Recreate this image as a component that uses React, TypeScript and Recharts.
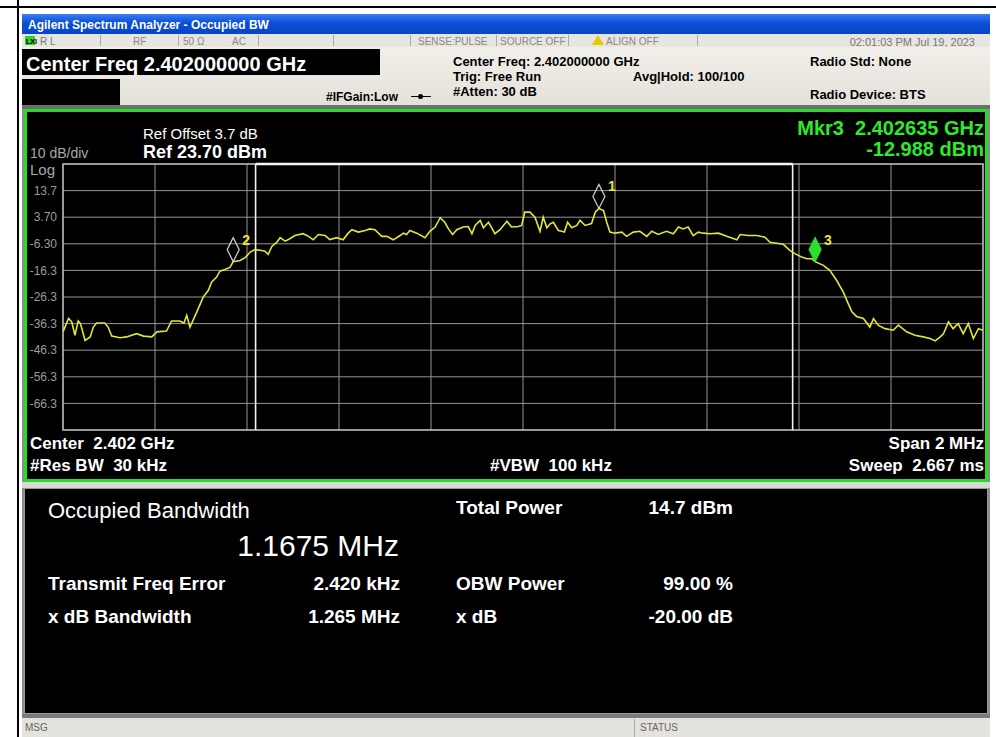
import React from "react";
import {
  ComposedChart,
  Line,
  Scatter,
  XAxis,
  YAxis,
  CartesianGrid,
  ReferenceLine,
  ReferenceArea
} from "recharts";

// frequency offset from 2.402 GHz centre, kHz
const freqKHz = [
  -1000, -988, -981, -974, -967, -962, -952, -941, -934, -927, -909, -902, -894, -876, -862,
  -840, -825, -807, -796, -775, -764, -746, -737, -731, -724, -709, -695, -684, -677, -666,
  -659, -648, -637, -630, -615, -604, -593, -583, -568, -561, -554, -546, -535, -528, -517,
  -507, -496, -478, -467, -456, -445, -430, -420, -405, -391, -380, -372, -358, -343, -333,
  -322, -307, -296, -282, -267, -260, -253, -246, -231, -213, -202, -191, -180, -170, -162,
  -153, -144, -130, -119, -111, -104, -93, -86, -75, -68, -61, -50, -35, -25, -10,
  -3, 4, 15, 26, 37, 44, 52, 59, 66, 77, 84, 90, 97, 106, 117,
  124, 135, 149, 157, 165, 175, 182, 189, 200, 215, 225, 240, 254, 269, 280,
  294, 312, 327, 338, 348, 359, 370, 381, 392, 407, 425, 443, 465, 472, 490,
  508, 526, 537, 552, 566, 580, 591, 606, 617, 628, 635, 653, 667, 682, 696,
  707, 715, 725, 740, 754, 762, 772, 787, 805, 816, 834, 852, 870, 885, 896,
  907, 914, 925, 935, 946, 957, 968, 979, 990, 1000
];

// trace level, dBm
const traceDbm = [
  -39.4, -34.4, -35.7, -40.7, -35.3, -36.3, -42.6, -41.3, -37.6, -36.1, -36.1, -37.6, -41.0, -41.6, -41.3,
  -40.1, -41.0, -41.3, -39.4, -39.1, -35.3, -35.3, -36.1, -33.2, -37.6, -31.9, -26.3, -23.8, -20.7, -18.8,
  -16.6, -16.0, -15.2, -13.0, -12.6, -11.5, -9.4, -8.5, -8.8, -9.1, -10.3, -7.3, -5.7, -4.0, -5.3,
  -4.4, -3.2, -2.5, -3.4, -4.8, -2.8, -3.2, -4.7, -4.0, -4.8, -2.3, -1.0, -1.9, -1.3, -0.7,
  -1.0, -3.5, -3.5, -4.8, -3.2, -2.3, -2.8, -1.3, -2.3, -4.0, -1.5, 0.0, 3.5, 1.8, -0.7,
  -2.8, -1.0, 0.0, 0.2, -2.5, 0.6, 2.5, -0.3, 1.8, -0.3, -2.5, -1.0, 2.2, 0.0, 0.2,
  0.6, 5.6, 5.6, 3.7, -1.6, 3.7, -0.3, 1.2, 1.8, -1.3, -1.6, -1.9, 1.8, -0.3, 0.6,
  2.5, 0.6, 1.3, 5.6, 7.0, 6.2, 1.8, -1.9, -2.3, -1.9, -3.5, -1.9, -1.6, -3.5, -1.6,
  -2.8, -1.6, -2.5, 0.0, -0.7, 0.0, -3.2, -1.9, -2.3, -2.5, -2.3, -3.5, -4.8, -2.8, -3.2,
  -3.2, -3.8, -5.7, -6.1, -6.5, -8.8, -10.0, -11.3, -11.9, -11.9, -13.0, -14.4, -16.3, -20.1, -24.4,
  -28.8, -31.9, -33.6, -34.4, -37.6, -34.4, -36.9, -38.2, -38.8, -36.9, -39.4, -40.7, -41.3, -41.9, -42.8,
  -41.3, -40.1, -35.7, -38.2, -36.3, -40.1, -36.3, -41.9, -38.2, -38.8
];

const markerIds = [1, 2, 3];
const markerKHz = [165, -630, 635];
const markerDbm = [7.01, -13.0, -12.988];
const activeMarker = 3;

const xTicks = [-1000, -800, -600, -400, -200, 0, 200, 400, 600, 800, 1000];
const yTicks = [23.7, 13.7, 3.7, -6.3, -16.3, -26.3, -36.3, -46.3, -56.3, -66.3, -76.3];

const obwCenterKHz = 2.42;
const obwKHz = 1167.5;
const obwLeft = obwCenterKHz - obwKHz / 2;
const obwRight = obwCenterKHz + obwKHz / 2;

const traceRows = freqKHz.map((f, i) => ({ f, dbm: traceDbm[i] }));
const markerRows = markerIds.map((id, i) => ({ id, f: markerKHz[i], dbm: markerDbm[i] }));

const FONT = '"Liberation Sans", Arial, sans-serif';

function Txt({ x, right, base, size, bold, color, children }: any) {
  const style: any = {
    position: "absolute",
    top: base - size * 0.85,
    fontSize: size,
    lineHeight: 1,
    fontWeight: bold ? "bold" : "normal",
    color: color || "#fff",
    whiteSpace: "pre",
    fontFamily: FONT
  };
  if (right !== undefined) style.right = 996 - right;
  else style.left = x;
  return <div style={style}>{children}</div>;
}

function Box({ x, y, w, h, bg, style }: any) {
  return (
    <div
      style={{ position: "absolute", left: x, top: y, width: w, height: h, background: bg, ...style }}
    />
  );
}

function MarkerShape(props: any) {
  const { cx, cy, payload } = props;
  if (cx == null || cy == null) return null;
  const active = payload.id === activeMarker;
  const pts = `${cx},${cy} ${cx + 6},${cy - 12} ${cx},${cy - 24} ${cx - 6},${cy - 12}`;
  return (
    <g>
      <polygon
        points={pts}
        fill={active ? "#2ee02e" : "none"}
        stroke={active ? "#2ee02e" : "#d0d0d0"}
        strokeWidth={1.2}
      />
      <text x={cx + 9} y={cy - 17} fill="#e8e83a" fontSize={14} fontWeight="bold" fontFamily={FONT}>
        {payload.id}
      </text>
    </g>
  );
}

const fmtY = (v: number) => {
  if (v === 23.7 || v === -76.3) return "";
  return Math.abs(v) < 10 ? v.toFixed(2) : v.toFixed(1);
};

export default function App() {
  return (
    <div style={{ position: "absolute", left: 0, top: 0, width: 996, height: 737, background: "#fff", overflow: "hidden", fontFamily: FONT }}>
      {/* outer document frame */}
      <Box x={0} y={6} w={996} h={2} bg="#000" />
      <Box x={17} y={0} w={2} h={737} bg="#000" />

      {/* instrument screen */}
      <Box x={22} y={14} w={968} h={723} bg="#8c8c8c" />

      {/* title bar */}
      <Box x={22} y={14} w={968} h={20} bg="linear-gradient(#3d7cf0, #0a4fd6 45%, #0846c4)" />
      <Txt x={28} base={29} size={12} bold color="#fff">Agilent Spectrum Analyzer - Occupied BW</Txt>

      {/* status row */}
      <Box x={22} y={34} w={968} h={13} bg="#e7e5df" />
      <Box x={25} y={36} w={10} h={9} bg="#2fd12f" />
      <Txt x={26} base={44} size={7} bold color="#000">LXI</Txt>
      <Txt x={40} base={45} size={10} color="#777">R L</Txt>
      <Txt x={133} base={45} size={10} color="#888">RF</Txt>
      <Txt x={183} base={45} size={10} color="#888">50 Ω</Txt>
      <Txt x={232} base={45} size={10} color="#888">AC</Txt>
      <Txt x={418} base={45} size={10} color="#888">SENSE:PULSE</Txt>
      <Txt x={500} base={45} size={10} color="#888">SOURCE OFF</Txt>
      <div style={{ position: "absolute", left: 592, top: 35, width: 0, height: 0, borderLeft: "6px solid transparent", borderRight: "6px solid transparent", borderBottom: "10px solid #e8c800" }} />
      <Txt x={606} base={45} size={10} color="#888">ALIGN OFF</Txt>
      <Txt right={975} base={46} size={11} color="#777">02:01:03 PM Jul 19, 2023</Txt>
      {[100, 178, 258, 333, 410, 496, 568, 697].map((x) => (
        <Box key={x} x={x} y={35} w={1} h={11} bg="#aaa" />
      ))}

      {/* header */}
      <Box x={22} y={47} w={968} h={58} bg="linear-gradient(#f1efe9, #e4e1d9)" />
      <Box x={22} y={49} w={358} h={26} bg="#000" />
      <Txt x={26} base={71} size={20} bold color="#fff">Center Freq 2.402000000 GHz</Txt>
      <Box x={22} y={79} w={98} h={26} bg="#000" />
      <Txt x={326} base={101} size={12} bold color="#000">#IFGain:Low</Txt>
      <Box x={411} y={96} w={20} h={1} bg="#000" />
      <Box x={418} y={94} w={5} h={5} bg="#000" style={{ borderRadius: 3 }} />
      <Txt x={453} base={66} size={13} bold color="#000">Center Freq: 2.402000000 GHz</Txt>
      <Txt x={453} base={81} size={13} bold color="#000">Trig: Free Run</Txt>
      <Txt x={453} base={96} size={13} bold color="#000">#Atten: 30 dB</Txt>
      <Txt x={633} base={81} size={13} bold color="#000">Avg|Hold: 100/100</Txt>
      <Txt x={810} base={66} size={13} bold color="#000">Radio Std: None</Txt>
      <Txt x={810} base={99} size={13} bold color="#000">Radio Device: BTS</Txt>
      <Box x={22} y={105} w={968} h={4} bg="#6e6e6e" />

      {/* spectrum panel */}
      <Box x={24} y={109} w={958} h={367} bg="#000" style={{ border: "3px solid #26dc26" }} />
      <div style={{ position: "absolute", left: 24, top: 110 }}>
        <ComposedChart
          width={964}
          height={372}
          data={traceRows}
          margin={{ top: 54, right: 5, bottom: 52, left: 0 }}
        >
          <CartesianGrid stroke="#959595" strokeWidth={1} />
          <XAxis
            dataKey="f"
            type="number"
            domain={[-1000, 1000]}
            ticks={xTicks}
            allowDataOverflow
            hide
          />
          <YAxis
            type="number"
            domain={[-76.3, 23.7]}
            ticks={yTicks}
            width={39}
            interval={0}
            allowDataOverflow
            axisLine={false}
            tickLine={false}
            tickSize={4}
            tickFormatter={fmtY}
            tick={{ fill: "#9c9c9c", fontSize: 12, fontFamily: FONT }}
          />
          <ReferenceArea
            x1={-1000}
            x2={1000}
            y1={-76.3}
            y2={23.7}
            fill="none"
            stroke="#b4b4b4"
            strokeWidth={1.5}
          />
          <ReferenceLine x={obwLeft} stroke="#f2f2f2" strokeWidth={1.6} />
          <ReferenceLine x={obwRight} stroke="#f2f2f2" strokeWidth={1.6} />
          <ReferenceLine
            segment={[
              { x: obwLeft, y: 23.7 },
              { x: obwRight, y: 23.7 }
            ]}
            stroke="#f4f4f4"
            strokeWidth={2.5}
          />
          <Line
            dataKey="dbm"
            type="linear"
            stroke="#e2e536"
            strokeWidth={1.6}
            dot={false}
            isAnimationActive={false}
          />
          <Scatter
            data={markerRows}
            dataKey="dbm"
            shape={(p: any) => <MarkerShape {...p} />}
            isAnimationActive={false}
          />
        </ComposedChart>
      </div>
      <Txt x={143} base={139} size={15} color="#fff">Ref Offset 3.7 dB</Txt>
      <Txt x={143} base={158} size={18} bold color="#fff">Ref 23.70 dBm</Txt>
      <Txt x={30} base={158} size={14} color="#a8a8a8">10 dB/div</Txt>
      <Txt x={30} base={175} size={15} color="#a8a8a8">Log</Txt>
      <Txt right={984} base={135} size={20} bold color="#2fe82f">Mkr3  2.402635 GHz</Txt>
      <Txt right={984} base={156} size={20} bold color="#2fe82f">-12.988 dBm</Txt>
      <Txt x={30} base={449} size={17} bold color="#fff">Center  2.402 GHz</Txt>
      <Txt x={30} base={471} size={17} bold color="#fff">#Res BW  30 kHz</Txt>
      <Txt x={490} base={471} size={17} bold color="#fff">#VBW  100 kHz</Txt>
      <Txt right={984} base={449} size={17} bold color="#fff">Span 2 MHz</Txt>
      <Txt right={984} base={471} size={17} bold color="#fff">Sweep  2.667 ms</Txt>

      {/* result panel */}
      <Box x={22} y={482} w={968} h={6} bg="#d8d8d8" />
      <Box x={24} y={488} w={962} h={224} bg="#000" style={{ border: "1px solid #9a9a9a" }} />
      <Txt x={48} base={519} size={22} color="#fff">Occupied Bandwidth</Txt>
      <Txt right={399} base={556} size={30} color="#fff">1.1675 MHz</Txt>
      <Txt x={456} base={514} size={19} bold color="#fff">Total Power</Txt>
      <Txt right={733} base={514} size={19} bold color="#fff">14.7 dBm</Txt>
      <Txt x={48} base={590} size={19} bold color="#fff">Transmit Freq Error</Txt>
      <Txt right={400} base={590} size={19} bold color="#fff">2.420 kHz</Txt>
      <Txt x={456} base={590} size={19} bold color="#fff">OBW Power</Txt>
      <Txt right={733} base={590} size={19} bold color="#fff">99.00 %</Txt>
      <Txt x={48} base={623} size={19} bold color="#fff">x dB Bandwidth</Txt>
      <Txt right={400} base={623} size={19} bold color="#fff">1.265 MHz</Txt>
      <Txt x={456} base={623} size={19} bold color="#fff">x dB</Txt>
      <Txt right={733} base={623} size={19} bold color="#fff">-20.00 dB</Txt>

      {/* message bar */}
      <Box x={22} y={714} w={968} h={4} bg="#7a7a7a" />
      <Box x={22} y={718} w={968} h={19} bg="#e4e2dc" />
      <Box x={634} y={719} w={1} h={18} bg="#aaa" />
      <Txt x={25} base={731} size={10} color="#666">MSG</Txt>
      <Txt x={640} base={731} size={10} color="#666">STATUS</Txt>
    </div>
  );
}
